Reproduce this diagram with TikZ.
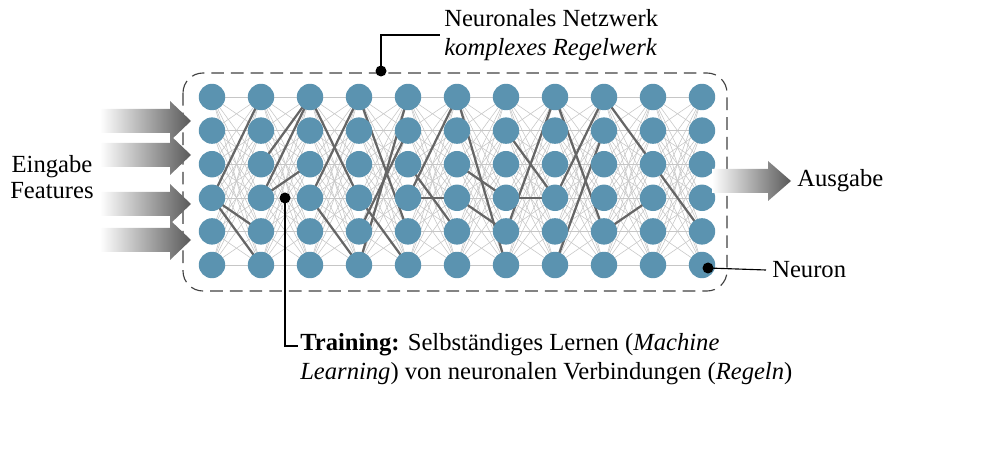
\documentclass[tikz,border=0pt]{standalone}
\usepackage{fontspec}
\setmainfont{Liberation Serif}
\definecolor{neuronblue}{HTML}{5B93B0}
\tikzset{
  neuron/.style={circle,fill=neuronblue,minimum size=0.66cm,inner sep=0pt},
  weak/.style={gray!45,line width=0.4pt},
  strong/.style={black!60,line width=1.6pt},
  fade/.style={left color=white,right color=black!65},
  label/.style={font=\fontsize{17.5}{21}\selectfont,inner sep=0pt}
}
\begin{document}
\begin{tikzpicture}[x=0.025cm,y=-0.025cm]
  \useasboundingbox (0,0) rectangle (1002,472);
  % frame
  \draw [dashed,dash pattern=on 9pt off 5pt,thick,black!75,rounded corners=0.5cm] (183,73) rectangle (727,291);
  % weak connections
  \foreach \c [evaluate=\c as \cx using 212+49*\c, evaluate=\c as \nx using 261+49*\c] in {0,...,9}
    \foreach \r in {0,...,5}
      \foreach \s in {0,...,5}
        \draw [weak] (\cx,97+33.6*\r) -- (\nx,97+33.6*\s);
  % strong connections (column, row, next row)
  \foreach \c/\r/\s in {0/3/0,0/3/4,0/3/5,1/3/0,1/2/0,1/3/2,2/3/0,2/3/5,2/0/3,3/0/4,3/3/5,3/4/1,3/5/0,
                        4/3/3,4/3/0,4/2/4,5/0/5,5/3/4,5/2/3,6/3/3,6/4/0,6/1/3,7/0/4,7/3/0,7/5/1,8/4/3,8/0/2,9/2/4}
    \draw [strong] (212+49*\c,97+33.6*\r) -- (261+49*\c,97+33.6*\s);
  % neurons
  \foreach \c in {0,...,10}
    \foreach \r in {0,...,5}
      \node [neuron] (n\c-\r) at (212+49*\c,97+33.6*\r) {};
  % inputs
  \foreach \y in {121,155,204,240}
    \shade [fade] (100,\y-12) -- (170,\y-12) -- (170,\y-20) -- (191,\y) -- (170,\y+20) -- (170,\y+12) -- (100,\y+12) -- cycle;
  \node [label,align=center] (eingabe) at (52,177) {Eingabe\\[-3pt]Features};
  % output
  \shade [fade] (712,169) -- (768,169) -- (768,161) -- (791,181) -- (768,201) -- (768,193) -- (712,193) -- cycle;
  \node [label,anchor=west] (ausgabe) at (797,181) {Ausgabe};
  % annotations
  \fill (381,71) circle (5.5) coordinate (netdot);
  \draw [thick] (netdot) |- (440,35) coordinate (netend);
  \node [label,anchor=west,align=left] (netz) at (444,35) {Neuronales Netzwerk\\\textit{komplexes Regelwerk}};
  \fill (708,268) circle (5.5) coordinate (neurdot);
  \draw [thick] (neurdot) -- (766,270) coordinate (neurend);
  \node [label,anchor=west] (neuron) at (772,270) {Neuron};
  \fill (285,198) circle (5.5) coordinate (traindot);
  \draw [thick] (traindot) |- (298,346) coordinate (trainend);
  \node [label,anchor=north west,align=left] (training) at (300,333)
    {\textbf{Training:} Selbständiges Lernen (\textit{Machine}\\\textit{Learning}) von neuronalen Verbindungen (\textit{Regeln})};
\end{tikzpicture}
\end{document}
